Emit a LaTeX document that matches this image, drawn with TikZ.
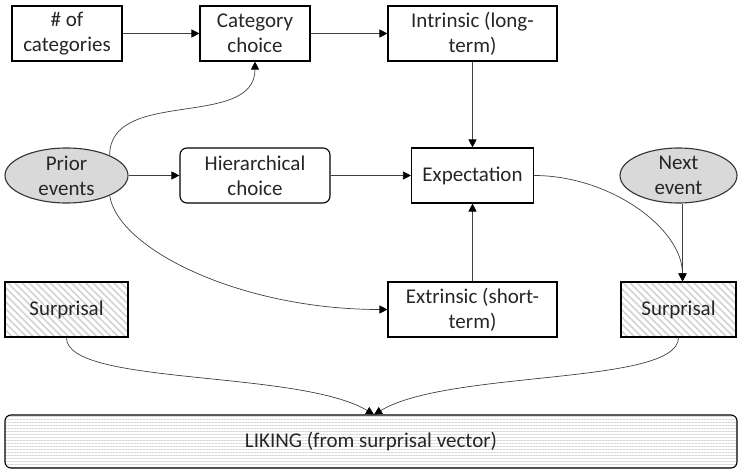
\documentclass[tikz,border=0pt]{standalone}
\usepackage{fontspec}
\setmainfont{Carlito}
\usetikzlibrary{arrows.meta, shapes.geometric, patterns.meta, positioning}

\begin{document}
\begin{tikzpicture}[x=1pt, y=1pt,
  font=\fontsize{21}{25}\selectfont,
  box/.style={draw, line width=1.1pt, align=center, minimum height=55pt, inner sep=2pt, text=black!85},
  oval/.style={ellipse, draw=black!80, line width=1.1pt, fill=gray!30, align=center,
    minimum height=55pt, inner xsep=0pt, inner ysep=-8pt, text=black!85},
  hatch/.style={box, pattern={Lines[angle=-45, distance=5pt, line width=1.6pt]}, pattern color=gray!35},
  conn/.style={draw=black!75, line width=0.7pt, -{Triangle[length=8pt, width=8pt, color=black]}}
]
\useasboundingbox (0,0) rectangle (738,-473);

% top row
\node[box, minimum width=110pt] (cats) at (67,-33.5) {\# of\\categories};
\node[box, minimum width=110pt] (cat) at (255,-33.5) {Category\\choice};
\node[box, minimum width=169pt] (intr) at (472.5,-33.5) {Intrinsic (long-\\term)};

% middle row
\node[oval, minimum width=123pt] (prior) at (66.5,-175.5) {Prior\\events};
\node[box, rounded corners=7pt, minimum width=150pt] (hier) at (255,-175.5) {Hierarchical\\choice};
\node[box, minimum width=122pt] (expect) at (472.5,-175.5) {Expectation};
\node[oval, minimum width=117pt] (next) at (678.5,-175.5) {Next\\event};

% lower row
\node[hatch, minimum width=123pt] (surpL) at (66.5,-309.5) {Surprisal};
\node[box, minimum width=169pt] (extr) at (472.5,-309.5) {Extrinsic (short-\\term)};
\node[hatch, minimum width=115pt] (surpR) at (678.5,-309.5) {Surprisal};

\node[box, rounded corners=6pt, minimum width=732pt, minimum height=53pt,
  pattern={Lines[angle=0, distance=3pt, line width=0.9pt]}, pattern color=gray!30]
  (liking) at (371,-441.5) {LIKING (from surprisal vector)};

\coordinate (hitR) at ([xshift=4pt]surpR.north);
\coordinate (likeIn) at ([xshift=3pt]liking.north);

\draw[conn] (cats) -- (cat);
\draw[conn] (cat) -- (intr);
\draw[conn] (intr) -- (expect);
\draw[conn] (extr) -- (expect);
\draw[conn] (prior) -- (hier);
\draw[conn] (hier) -- (expect);
\draw[conn] (prior.25) .. controls +(0,68) and +(0,-68) .. (cat.south);
\draw[conn] (prior.-25) .. controls +(8,-53) and +(-148,0) .. (extr.west);
\draw[conn] (expect.east) .. controls +(76,0) and +(0,53) .. (hitR);
\draw[conn] (next.south -| hitR) -- (hitR);
\draw[conn] (surpL.south) .. controls +(0,-48) and +(-75,45) .. (likeIn);
\draw[conn] (surpR.south) .. controls +(0,-48) and +(75,45) .. (likeIn);
\end{tikzpicture}
\end{document}
